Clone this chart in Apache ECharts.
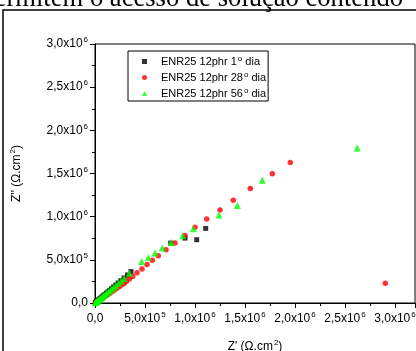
<!DOCTYPE html>
<html>
<head>
<meta charset="utf-8">
<script src="https://cdn.jsdelivr.net/npm/echarts@6/dist/echarts.min.js"></script>
<style>
html,body{margin:0;padding:0;background:#fff;}
#c{width:416px;height:351px;}
</style>
</head>
<body>
<div id="c"></div>
<script>
// ---- data (values in Ohm.cm^2) ----
const seriesNames = ['ENR25 12phr 1º dia', 'ENR25 12phr 28º dia', 'ENR25 12phr 56º dia'];

const dia1X = [4e3, 9e3, 15e3, 22e3, 30e3, 39e3, 49e3, 60e3, 72e3, 85e3, 99e3, 114e3, 130e3, 147e3, 166e3, 186e3, 208e3, 232e3, 258e3, 290e3, 325e3, 360e3, 757e3, 900e3, 1017e3, 1107e3];
const dia1Y = [4e3, 9e3, 15e3, 22e3, 30e3, 39e3, 49e3, 60e3, 72e3, 85e3, 99e3, 114e3, 130e3, 147e3, 166e3, 186e3, 208e3, 232e3, 258e3, 290e3, 325e3, 364e3, 694e3, 752e3, 733e3, 864e3];

const dia28X = [5e3, 11e3, 18e3, 26e3, 35e3, 45e3, 56e3, 68e3, 81e3, 95e3, 110e3, 126e3, 143e3, 161e3, 180e3, 200e3, 222e3, 245e3, 270e3, 292e3, 313e3, 343e3, 377e3, 420e3, 470e3, 520e3, 573e3, 633e3, 710e3, 800e3, 900e3, 1000e3, 1117e3, 1250e3, 1383e3, 1553e3, 1773e3, 1953e3, 2903e3];
const dia28Y = [3e3, 7e3, 12e3, 18e3, 25e3, 33e3, 42e3, 51e3, 61e3, 72e3, 84e3, 97e3, 110e3, 124e3, 139e3, 155e3, 173e3, 192e3, 212e3, 230e3, 248e3, 279e3, 306e3, 349e3, 395e3, 446e3, 496e3, 547e3, 616e3, 694e3, 783e3, 876e3, 973e3, 1078e3, 1190e3, 1326e3, 1496e3, 1628e3, 229e3];

const dia56X = [3e3, 7e3, 12e3, 18e3, 25e3, 33e3, 42e3, 52e3, 63e3, 75e3, 88e3, 102e3, 117e3, 133e3, 150e3, 168e3, 188e3, 210e3, 235e3, 262e3, 292e3, 343e3, 467e3, 533e3, 600e3, 673e3, 760e3, 877e3, 983e3, 1240e3, 1423e3, 1673e3, 2623e3];
const dia56Y = [3e3, 7e3, 12e3, 17e3, 24e3, 32e3, 41e3, 50e3, 61e3, 73e3, 86e3, 99e3, 114e3, 129e3, 146e3, 163e3, 183e3, 204e3, 228e3, 254e3, 283e3, 345e3, 480e3, 527e3, 578e3, 636e3, 701e3, 779e3, 860e3, 1020e3, 1128e3, 1422e3, 1794e3];

const xTickValues = [0, 5e5, 1e6, 1.5e6, 2e6, 2.5e6, 3e6];
const xTickLabels = ['0,0', '5,0x10{sup|5}', '1,0x10{sup|6}', '1,5x10{sup|6}', '2,0x10{sup|6}', '2,5x10{sup|6}', '3,0x10{sup|6}'];
const yTickValues = [0, 5e5, 1e6, 1.5e6, 2e6, 2.5e6, 3e6];
const yTickLabels = ['0,0', '5,0x10{sup|5}', '1,0x10{sup|6}', '1,5x10{sup|6}', '2,0x10{sup|6}', '2,5x10{sup|6}', '3,0x10{sup|6}'];

const headerText = 'permitem o acesso de solução contendo';

// ---- chart ----
function zip(a, b) { return a.map((v, i) => [v, b[i]]); }
function tickFmt(values, labels) {
  return function (v) {
    const i = values.findIndex(t => Math.abs(t - v) < 1);
    return i >= 0 ? labels[i] : '';
  };
}
const FONT = '"Liberation Sans", Arial, sans-serif';
const supRich = { sup: { fontSize: 8, lineHeight: 8, fontFamily: FONT, color: '#000', verticalAlign: 'top', padding: [0, 0, 0, 1] } };

const chart = echarts.init(document.getElementById('c'), null, { renderer: 'canvas' });
chart.setOption({
  animation: false,
  backgroundColor: '#fff',
  textStyle: { fontFamily: FONT },
  grid: { left: 95, top: 44, width: 320, height: 259, show: true, borderColor: '#000', borderWidth: 1, backgroundColor: 'transparent', outerBoundsMode: 'none', containLabel: false },
  xAxis: {
    type: 'value', min: 0, max: 3.2e6, interval: 5e5,
    name: "Z' (Ω.cm{sup|2})", nameLocation: 'middle', nameGap: 36,
    nameTextStyle: { fontSize: 12, lineHeight: 16, color: '#000', fontFamily: FONT, rich: supRich },
    axisLine: { show: true, lineStyle: { color: '#000', width: 1 } },
    axisTick: { show: true, length: 5, lineStyle: { color: '#000' } },
    minorTick: { show: true, splitNumber: 2, length: 3, lineStyle: { color: '#000' } },
    splitLine: { show: false },
    axisLabel: { fontSize: 12, lineHeight: 16, color: '#000', margin: 8, showMaxLabel: false, formatter: tickFmt(xTickValues, xTickLabels), rich: supRich }
  },
  yAxis: {
    type: 'value', min: 0, max: 3e6, interval: 5e5,
    name: "Z'' (Ω.cm{sup|2})", nameLocation: 'middle', nameGap: 70,
    nameTextStyle: { fontSize: 12, lineHeight: 16, color: '#000', fontFamily: FONT, rich: supRich },
    axisLine: { show: true, lineStyle: { color: '#000', width: 1 } },
    axisTick: { show: true, length: 5, lineStyle: { color: '#000' } },
    minorTick: { show: true, splitNumber: 2, length: 3, lineStyle: { color: '#000' } },
    splitLine: { show: false },
    axisLabel: { fontSize: 12, lineHeight: 16, color: '#000', margin: 7, formatter: tickFmt(yTickValues, yTickLabels), rich: supRich }
  },
  legend: {
    left: 128, top: 51, orient: 'vertical',
    borderColor: '#000', borderWidth: 1, borderRadius: 0,
    padding: [4, 2, 1, 14], itemGap: 3, itemWidth: 5, itemHeight: 5,
    textStyle: { fontSize: 11, lineHeight: 13, color: '#000', fontFamily: FONT, padding: [0, 0, 0, 9], rich: supRich },
    formatter: n => n.replace('º', '{sup|o}')
  },
  graphic: [
    { type: 'rect', shape: { x: 3, y: 10, width: 600, height: 500 }, style: { fill: 'none', stroke: '#000', lineWidth: 1.5 }, silent: true },
    { type: 'text', x: 403, y: 13, style: { text: headerText, font: '26.6px "Liberation Serif", "Times New Roman", serif', fill: '#000', align: 'right', verticalAlign: 'bottom' }, silent: true }
  ],
  series: [
    { name: seriesNames[0], type: 'scatter', symbol: 'rect', symbolSize: 5, itemStyle: { color: '#000' }, data: zip(dia1X, dia1Y), z: 2 },
    { name: seriesNames[1], type: 'scatter', symbol: 'circle', symbolSize: 5.5, itemStyle: { color: '#ff0000' }, data: zip(dia28X, dia28Y), z: 3 },
    { name: seriesNames[2], type: 'scatter', symbol: 'triangle', symbolSize: 7, itemStyle: { color: '#00ff00' }, data: zip(dia56X, dia56Y), z: 4 }
  ]
});
</script>
</body>
</html>
